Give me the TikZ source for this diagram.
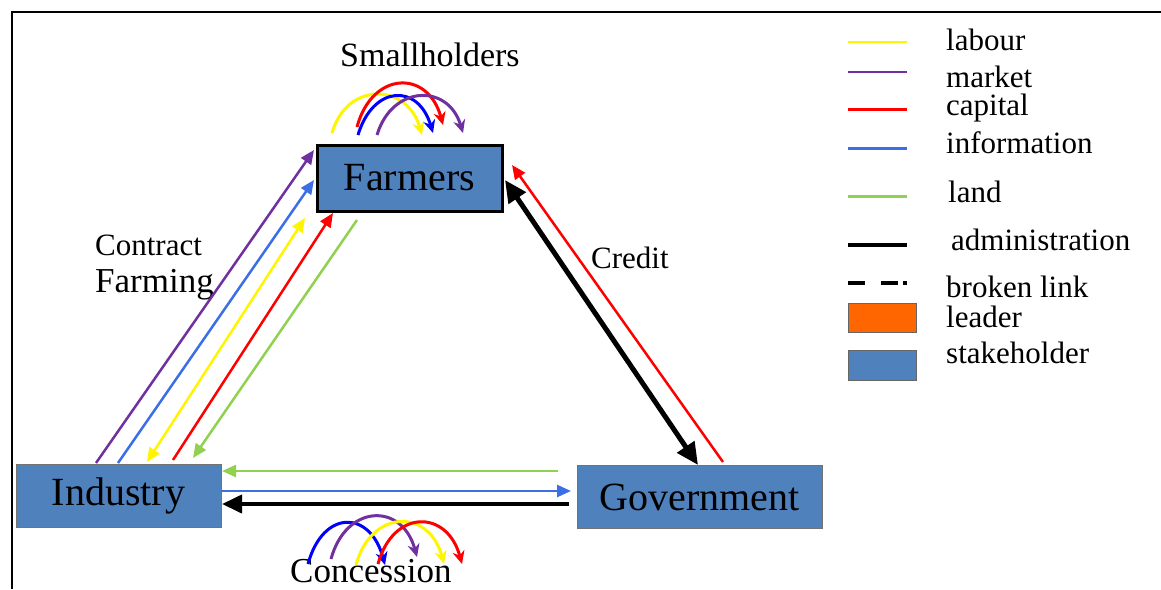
\documentclass[tikz,border=0pt]{standalone}
\usepackage{fontspec}
\setmainfont{Liberation Serif}
\newfontfamily\timesfont{Liberation Serif}
\usetikzlibrary{arrows.meta}

\begin{document}
\begin{tikzpicture}[x=1pt,y=-1pt,
    stake/.style={draw=black!55, line width=1pt, fill=stakeblue, minimum height=63pt,
      inner sep=0pt, font=\timesfont\fontsize{40}{44}\selectfont},
    lbl/.style={anchor=base west, inner sep=0pt, font=\timesfont\fontsize{31}{36}\selectfont},
    flow/.style={line width=2.5pt, -{Triangle[length=14pt,width=12pt]}},
    hop/.style={line width=3pt, -{Stealth[length=13pt,width=12pt]}},
    key/.style={line width=3pt}]
    % Define colors
    \definecolor{stakeblue}{RGB}{79,129,189}
    \definecolor{leadorange}{RGB}{255,102,0}
    \definecolor{labourcol}{RGB}{255,245,0}
    \definecolor{marketcol}{RGB}{112,48,160}
    \definecolor{capitalcol}{RGB}{255,0,0}
    \definecolor{infocol}{RGB}{60,110,230}
    \definecolor{hopblue}{RGB}{0,0,255}
    \definecolor{landcol}{RGB}{146,208,80}

    \useasboundingbox (0,0) rectangle (1161,589);
    % Frame (cut at right and bottom)
    \draw[line width=2.5pt] (12,589) -- (12,12) -- (1161,12);

    % Stakeholders
    \node[stake, draw=black, line width=3pt, minimum width=185pt, minimum height=66pt] (farmers) at (409.5,178) {Farmers};
    \node[stake, minimum width=205pt] (industry) at (118.5,495.5) {Industry};
    \node[stake, minimum width=245pt] (gov) at (699.5,497) {Government};

    % Labels
    \node[lbl, font=\timesfont\fontsize{34}{40}\selectfont] (small) at (340,66) {Smallholders};
    \node[lbl] (contract) at (95,255) {Contract};
    \node[lbl, font=\timesfont\fontsize{35}{40}\selectfont] (farming) at (95,292) {Farming};
    \node[lbl] (credit) at (591,268) {Credit};
    \node[lbl, font=\timesfont\fontsize{35}{40}\selectfont] (conc) at (290,582) {Concession};

    % Industry -- Farmers (contract farming)
    \coordinate (iP) at (96,463);  \coordinate (fP) at (314,150);
    \coordinate (iB) at (118,463); \coordinate (fB) at (314,180);
    \coordinate (iY) at (147,462); \coordinate (fY) at (305,218);
    \coordinate (iR) at (173,460); \coordinate (fR) at (333,213);
    \coordinate (iG) at (193,458); \coordinate (fG) at (357,220);
    \draw[flow, marketcol] (iP) -- (fP);
    \draw[flow, infocol] (iB) -- (fB);
    \draw[flow, labourcol, {Triangle[length=14pt,width=12pt]}-{Triangle[length=14pt,width=12pt]}] (iY) -- (fY);
    \draw[flow, capitalcol] (iR) -- (fR);
    \draw[flow, landcol] (fG) -- (iG);

    % Farmers -- Government (credit)
    \coordinate (fK) at (505,180); \coordinate (gK) at (698,465);
    \coordinate (gR) at (723,462); \coordinate (fRr) at (512,165);
    \draw[line width=5pt, {Triangle[length=22pt,width=20pt]}-{Triangle[length=22pt,width=20pt]}] (fK) -- (gK);
    \draw[line width=2.5pt, capitalcol, -{Triangle[length=14pt,width=12pt]}] (gR) -- (fRr);

    % Government -- Industry (concession)
    \coordinate (gG) at (558,471); \coordinate (iGh) at (222,471);
    \coordinate (iBh) at (221,491); \coordinate (gBh) at (571,491);
    \coordinate (gKh) at (569,504); \coordinate (iKh) at (222,504);
    \draw[flow, landcol] (gG) -- (iGh);
    \draw[flow, infocol] (iBh) -- (gBh);
    \draw[line width=4pt, -{Triangle[length=20pt,width=18pt]}] (gKh) -- (iKh);

    % Hops among smallholders
    \draw[hop, labourcol] (332,133) .. controls +(15,-52) and +(-15,-52) .. (422,135);
    \draw[hop, capitalcol] (357,127) .. controls +(15,-56) and +(-15,-56) .. (443,125);
    \draw[hop, hopblue] (358,135) .. controls +(15,-50) and +(-15,-50) .. (433,133);
    \draw[hop, marketcol] (377,135) .. controls +(15,-50) and +(-15,-50) .. (463,133);

    % Hops in concession
    \draw[hop, hopblue] (308,564) .. controls +(15,-55) and +(-15,-55) .. (385,565);
    \draw[hop, marketcol] (331,559) .. controls +(15,-55) and +(-15,-55) .. (417,557);
    \draw[hop, labourcol] (356,565) .. controls +(15,-56) and +(-15,-56) .. (444,564);
    \draw[hop, capitalcol] (378,564) .. controls +(15,-55) and +(-15,-55) .. (462,564);

    % Legend
    \draw[key, line width=2pt, labourcol] (848,42) -- (907,42);
    \node[lbl] (kLab) at (946,50) {labour};
    \draw[key, line width=2.5pt, marketcol] (848,72) -- (907,72);
    \node[lbl] (kMar) at (946,87) {market};
    \draw[key, capitalcol] (848,109) -- (907,109);
    \node[lbl] (kCap) at (946,115) {capital};
    \draw[key, infocol] (848,148) -- (907,148);
    \node[lbl] (kInf) at (946,153) {information};
    \draw[key, landcol] (848,196) -- (907,196);
    \node[lbl] (kLan) at (948,202) {land};
    \draw[key, line width=3.5pt] (848,245) -- (907,245);
    \node[lbl] (kAdm) at (951,250) {administration};
    \draw[key, line width=3.5pt, dash pattern=on 17pt off 16pt on 17pt off 5pt on 4pt off 10pt] (848,283) -- (907,283);
    \node[lbl] (kBro) at (946,297) {broken link};
    \fill[leadorange, draw=black!60, line width=1pt] (848,303) rectangle (916,332);
    \node[lbl] (kLea) at (946,327) {leader};
    \fill[stakeblue, draw=black!60, line width=1pt] (848,350) rectangle (916,380);
    \node[lbl] (kSta) at (946,363) {stakeholder};
\end{tikzpicture}
\end{document}
